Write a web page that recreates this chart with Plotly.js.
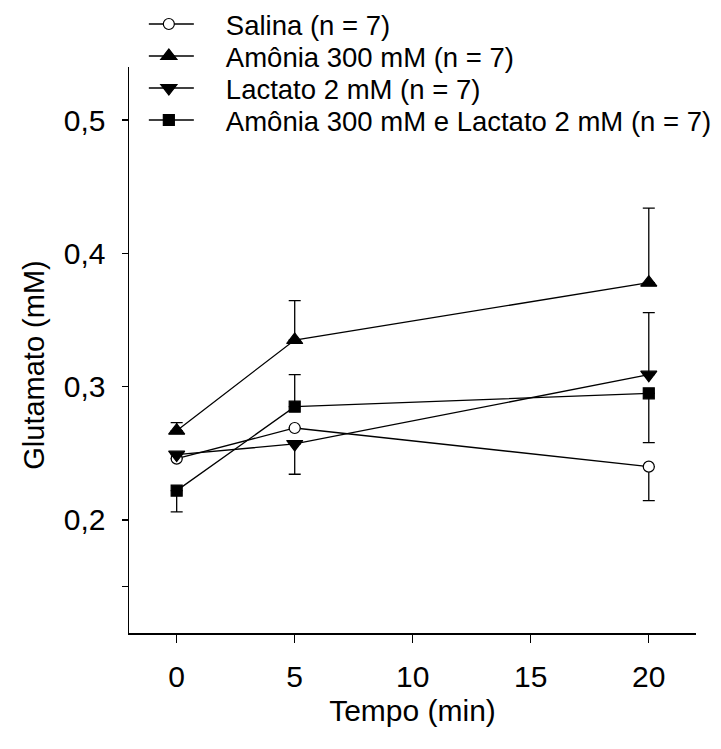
<!DOCTYPE html>
<html>
<head>
<meta charset="utf-8">
<script src="https://cdn.plot.ly/plotly-3.0.1.min.js"></script>
<style>html,body{margin:0;padding:0;background:#fff;}#chart{width:721px;height:749px;}</style>
</head>
<body>
<div id="chart"></div>
<script>
// Data (time in minutes, glutamate in mM)
const tempo = [0, 5, 20];

const salinaName = "Salina (n = 7)";
const salina = [0.246, 0.269, 0.240];
const salinaErrUp = [0, 0, 0];
const salinaErrDown = [0, 0, 0.0255];

const amoniaName = "Amônia 300 mM (n = 7)";
const amonia = [0.267, 0.335, 0.378];
const amoniaErrUp = [0.006, 0.0295, 0.056];
const amoniaErrDown = [0, 0, 0];

const lactatoName = "Lactato 2 mM (n = 7)";
const lactato = [0.249, 0.257, 0.309];
const lactatoErrUp = [0, 0, 0.0465];
const lactatoErrDown = [0, 0.0227, 0];

const ambosName = "Amônia 300 mM e Lactato 2 mM (n = 7)";
const ambos = [0.222, 0.285, 0.295];
const ambosErrUp = [0, 0.024, 0];
const ambosErrDown = [0.016, 0, 0.037];

const yTickVals = [0.15, 0.2, 0.3, 0.4, 0.5];
const yTickText = ["", "0,2", "0,3", "0,4", "0,5"];
const xTickVals = [0, 5, 10, 15, 20];

const FONT = "Liberation Sans, Arial, sans-serif";

function mk(name, y, up, down, symbol, size, fill) {
  return {
    x: tempo, y: y, name: name, type: "scatter", mode: "lines+markers",
    line: {color: "#000", width: 1.3},
    marker: {symbol: symbol, size: size, color: fill, line: {color: "#000", width: 1.2}},
    error_y: {type: "data", symmetric: false, array: up, arrayminus: down,
              color: "#000", thickness: 1.3, width: 6}
  };
}

const traces = [
  mk(salinaName, salina, salinaErrUp, salinaErrDown, "circle", 11, "#fff"),
  mk(amoniaName, amonia, amoniaErrUp, amoniaErrDown, "triangle-up", 14, "#000"),
  mk(lactatoName, lactato, lactatoErrUp, lactatoErrDown, "triangle-down", 14, "#000"),
  mk(ambosName, ambos, ambosErrUp, ambosErrDown, "square", 11, "#000")
];

const layout = {
  width: 721, height: 749,
  margin: {l: 129, r: 25, t: 67, b: 116, pad: 0, autoexpand: false},
  paper_bgcolor: "#fff", plot_bgcolor: "#fff",
  font: {family: FONT, color: "#000", size: 30},
  showlegend: true,
  legend: {x: 0.035, y: 1.119, xanchor: "left", yanchor: "top",
           bgcolor: "rgba(0,0,0,0)", font: {size: 27.5, family: FONT},
           itemwidth: 67, tracegroupgap: 0},
  xaxis: {
    range: [-2.02, 22.0], tickvals: xTickVals, ticks: "outside", ticklen: 8,
    tickwidth: 1.3, tickcolor: "#000", showline: true, linecolor: "#000", linewidth: 1.5,
    showgrid: false, zeroline: false, tickfont: {size: 30}, ticklabelstandoff: 8,
    automargin: false,
    title: {text: "Tempo (min)", font: {size: 30}, standoff: 8}
  },
  yaxis: {
    range: [0.1152, 0.5398], tickvals: yTickVals, ticktext: yTickText, ticks: "outside",
    ticklen: 6, tickwidth: 1.3, tickcolor: "#000", showline: true, linecolor: "#000",
    linewidth: 1.5, showgrid: false, zeroline: false, tickfont: {size: 30},
    ticklabelstandoff: 10, automargin: false,
    title: {text: "Glutamato (mM)", font: {size: 29}, standoff: 10}
  }
};

function parseTranslate(s) {
  const m = /translate\(\s*([-\d.e]+)[,\s]+([-\d.e]+)\s*\)/.exec(s || "");
  return m ? [parseFloat(m[1]), parseFloat(m[2])] : [0, 0];
}

Plotly.newPlot("chart", traces, layout, {displayModeBar: false, staticPlot: true}).then(function (gd) {
  // legend styling: tighter rows, longer sample lines with the symbol centred on them
  const rows = gd.querySelectorAll("g.legend g.traces");
  let x0 = null, y0 = null;
  rows.forEach(function (g, i) {
    const t = parseTranslate(g.getAttribute("transform"));
    if (i === 0) { x0 = t[0]; y0 = t[1]; }
    g.setAttribute("transform", "translate(" + x0 + "," + (y0 + i * 32) + ")");
  });
  rows.forEach(function (g) {
    const txt = g.querySelector("text.legendtext");
    if (!txt) return;
    const textLeft = txt.getBoundingClientRect().left;
    const wantCenter = textLeft - 57;
    const pt = g.querySelector("path.scatterpts");
    if (pt) {
      const r = pt.getBoundingClientRect();
      const dx = wantCenter - (r.left + r.right) / 2;
      const tt = parseTranslate(pt.getAttribute("transform"));
      pt.setAttribute("transform", "translate(" + (tt[0] + dx) + "," + tt[1] + ")");
    }
    const ln = g.querySelector(".legendlines path");
    if (ln) {
      const r = ln.getBoundingClientRect();
      const m = /M\s*([-\d.e]+)[,\s]+([-\d.e]+)/.exec(ln.getAttribute("d") || "");
      if (m) {
        const sx = parseFloat(m[1]) + (wantCenter - 25 - r.left);
        ln.setAttribute("d", "M" + sx + "," + m[2] + "h50");
      }
    }
  });
  // the y title in the original sits slightly below the axis centre
  const yt = gd.querySelector(".g-ytitle text");
  if (yt) yt.setAttribute("transform", "translate(0,15) " + (yt.getAttribute("transform") || ""));
});
</script>
</body>
</html>
